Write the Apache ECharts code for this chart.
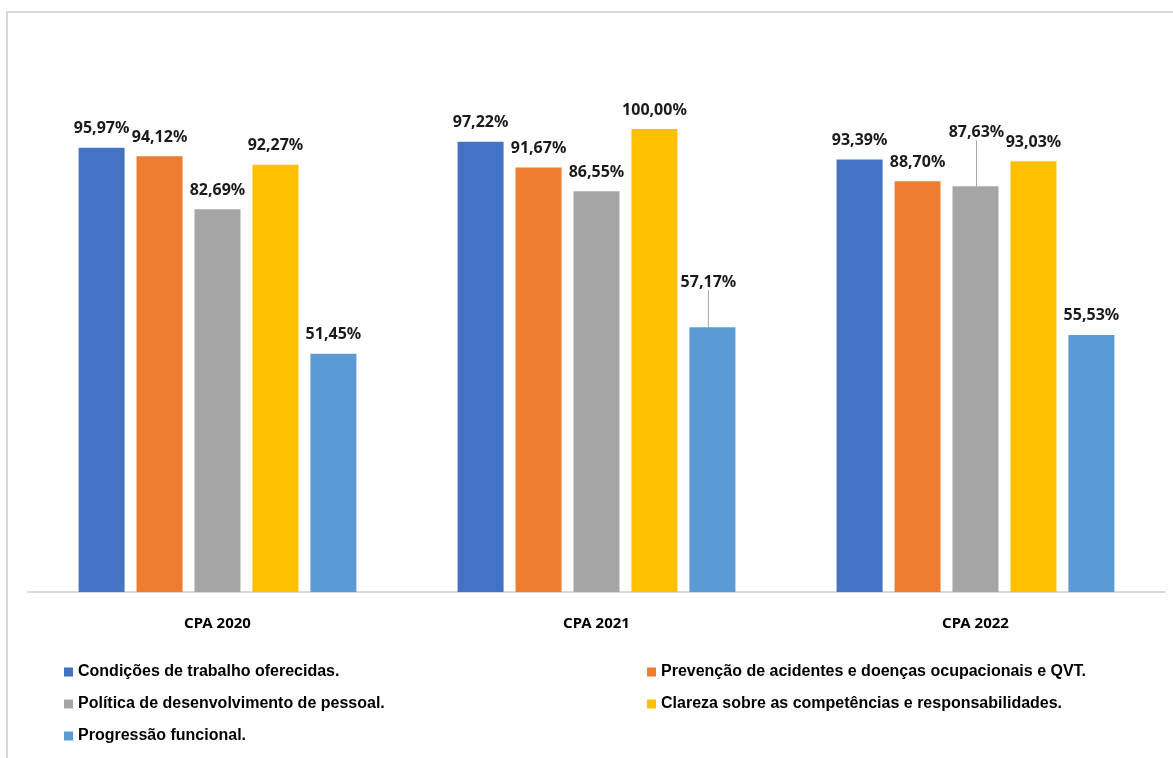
<!DOCTYPE html>
<html>
<head>
<meta charset="utf-8">
<script src="https://cdn.jsdelivr.net/npm/echarts@6/dist/echarts.min.js"></script>
<style>
html,body{margin:0;padding:0;background:#fff;}
#chart{width:1173px;height:758px;}
</style>
</head>
<body>
<div id="chart"></div>
<script>
const categories = ['CPA 2020', 'CPA 2021', 'CPA 2022'];
const seriesNames = [
  'Condições de trabalho oferecidas.',
  'Prevenção de acidentes e doenças ocupacionais e QVT.',
  'Política de desenvolvimento de pessoal.',
  'Clareza sobre as competências e responsabilidades.',
  'Progressão funcional.'
];
const condicoes = [95.97, 97.22, 93.39];
const prevencao = [94.12, 91.67, 88.70];
const politica = [82.69, 86.55, 87.63];
const clareza = [92.27, 100.00, 93.03];
const progressao = [51.45, 57.17, 55.53];
const colors = ['#4472C4', '#ED7D31', '#A5A5A5', '#FFC000', '#5B9BD5'];

const allValues = [condicoes, prevencao, politica, clareza, progressao];

// label offsets (moved labels in the reference)
function labelShift(si, di) {
  if (si === 4 && di === 1) return {dx: -4, dy: -26};
  if (si === 2 && di === 2) return {dx: 1, dy: -35};
  return null;
}

const chart = echarts.init(document.getElementById('chart'), null, {renderer: 'canvas'});
const series = allValues.map((vals, si) => ({
  name: seriesNames[si],
  type: 'bar',
  data: vals.map((v, di) => labelShift(si, di)
    ? {value: v, labelLine: {show: true, lineStyle: {color: '#a6a6a6', width: 1}}}
    : {value: v, labelLine: {show: false}}),
  barWidth: 46,
  barGap: '26%',
  itemStyle: {color: colors[si]},
  label: {
    show: true,
    position: 'top',
    distance: 11,
    formatter: p => p.value.toFixed(2).replace('.', ',') + '%',
    color: '#1a1a1a',
    fontFamily: 'Noto Sans',
    fontWeight: 'bold',
    fontSize: 16
  },
  labelLine: {show: false},
  labelLayout: p => labelShift(si, p.dataIndex) || {}
}));

const textStyle = {
  fontFamily: 'Liberation Sans',
  fontWeight: 'bold',
  fontSize: 16,
  color: '#000',
  lineHeight: 20
};

chart.setOption({
  animation: false,
  backgroundColor: '#fff',
  color: colors,
  graphic: [{
    type: 'rect',
    shape: {x: 7, y: 12, width: 1200, height: 800},
    style: {fill: 'none', stroke: '#d9d9d9', lineWidth: 2},
    silent: true
  }],
  grid: {left: 28, right: 8, top: 129, bottom: 166},
  xAxis: {
    type: 'category',
    data: categories,
    axisLine: {lineStyle: {color: '#d9d9d9', width: 2}},
    axisTick: {show: false},
    axisLabel: {
      margin: 24,
      color: '#000',
      fontFamily: 'Noto Sans',
      fontWeight: 'bold',
      fontSize: 15
    }
  },
  yAxis: {
    type: 'value',
    min: 0,
    max: 100,
    show: false,
    splitLine: {show: false}
  },
  legend: [
    {
      data: [seriesNames[0], seriesNames[2], seriesNames[4]],
      orient: 'vertical',
      left: 59,
      top: 657,
      itemWidth: 9,
      itemHeight: 9,
      itemGap: 12,
      icon: 'rect',
      textStyle: textStyle
    },
    {
      data: [seriesNames[1], seriesNames[3]],
      orient: 'vertical',
      left: 642,
      top: 657,
      itemWidth: 9,
      itemHeight: 9,
      itemGap: 12,
      icon: 'rect',
      textStyle: textStyle
    }
  ],
  series: series
});
</script>
</body>
</html>
